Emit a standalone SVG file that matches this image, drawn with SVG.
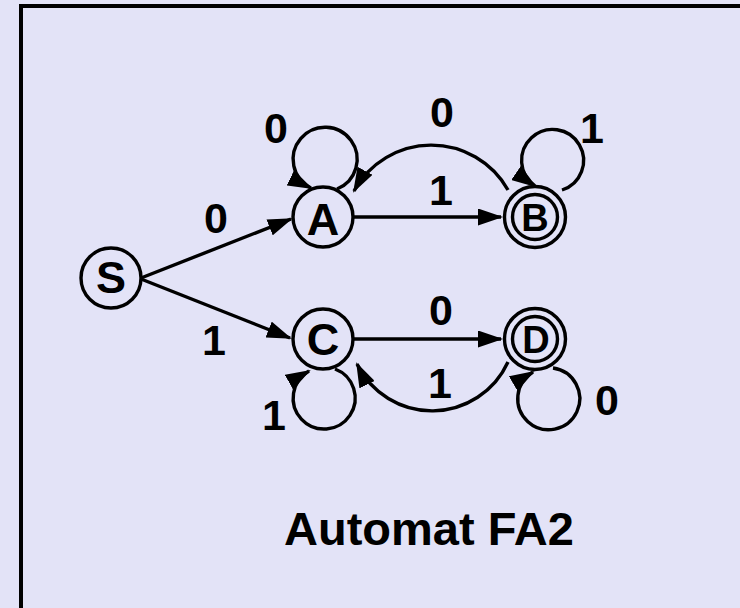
<svg xmlns="http://www.w3.org/2000/svg" width="740" height="608" viewBox="0 0 740 608">
<defs>
<marker id="arr" markerUnits="userSpaceOnUse" markerWidth="25" markerHeight="17" refX="23" refY="8.5" orient="auto">
<path d="M0,0 L25,8.5 L0,17 Z" fill="#000"/>
</marker>
<style>
.edge{fill:none;stroke:#000;stroke-width:3.4;marker-end:url(#arr)}
.node{fill:none;stroke:#000;stroke-width:3.4}
.t{font-family:"Liberation Sans",Arial,sans-serif;font-weight:bold;font-size:43px;fill:#000;text-anchor:middle}
.n{font-family:"Liberation Sans",Arial,sans-serif;font-weight:bold;font-size:45px;fill:#000;text-anchor:middle}
.nf{font-family:"Liberation Sans",Arial,sans-serif;font-weight:bold;font-size:38px;fill:#000;text-anchor:middle}
.title{font-family:"Liberation Sans",Arial,sans-serif;font-weight:bold;font-size:47px;fill:#000}
</style>
</defs>
<rect x="0" y="0" width="740" height="608" fill="#e3e3f7"/>
<path d="M21,608 V6 H740" fill="none" stroke="#000" stroke-width="4"/>
<g id="connectors">
<path class="edge" d="M141,278 L291,219"/>
<path class="edge" d="M141,279 L290,338"/>
<path class="edge" d="M353,217 L501,217"/>
<path class="edge" d="M508,190 A88 88 0 0 0 354,191"/>
<path class="edge" d="M337,189 A32 32 0 1 0 311,188"/>
<path class="edge" d="M562,190 A31 31 0 1 0 535,186"/>
<path class="edge" d="M353,339 L501,339"/>
<path class="edge" d="M508,362 A83.5 83.5 0 0 1 357,364"/>
<path class="edge" d="M335,369 A31 31 0 1 1 309,371"/>
<path class="edge" d="M553,368 A31 31 0 1 1 533,372"/>
</g>
<g id="edge-labels">
<text class="t" x="216" y="233">0</text>
<text class="t" x="214" y="355">1</text>
<text class="t" x="276" y="143">0</text>
<text class="t" x="442" y="127">0</text>
<text class="t" x="592" y="143">1</text>
<text class="t" x="441" y="205">1</text>
<text class="t" x="441" y="325">0</text>
<text class="t" x="440" y="398">1</text>
<text class="t" x="274" y="430">1</text>
<text class="t" x="607" y="415">0</text>
</g>
<g id="node-S">
<circle class="node" cx="111" cy="278" r="30"/>
<text class="n" x="111" y="293">S</text>
</g>
<g id="node-A">
<circle class="node" cx="323" cy="217" r="30"/>
<text class="n" x="323" y="235">A</text>
</g>
<g id="node-B">
<circle class="node" cx="535" cy="217" r="30.5"/>
<circle class="node" cx="535" cy="217" r="22.5"/>
<text class="nf" x="535" y="231">B</text>
</g>
<g id="node-C">
<circle class="node" cx="323" cy="339" r="30"/>
<text class="n" x="323" y="355">C</text>
</g>
<g id="node-D">
<circle class="node" cx="535" cy="339" r="30.5"/>
<circle class="node" cx="535" cy="339" r="22.5"/>
<text class="nf" x="536" y="353">D</text>
</g>
<text class="title" x="284" y="545">Automat FA2</text>
</svg>
